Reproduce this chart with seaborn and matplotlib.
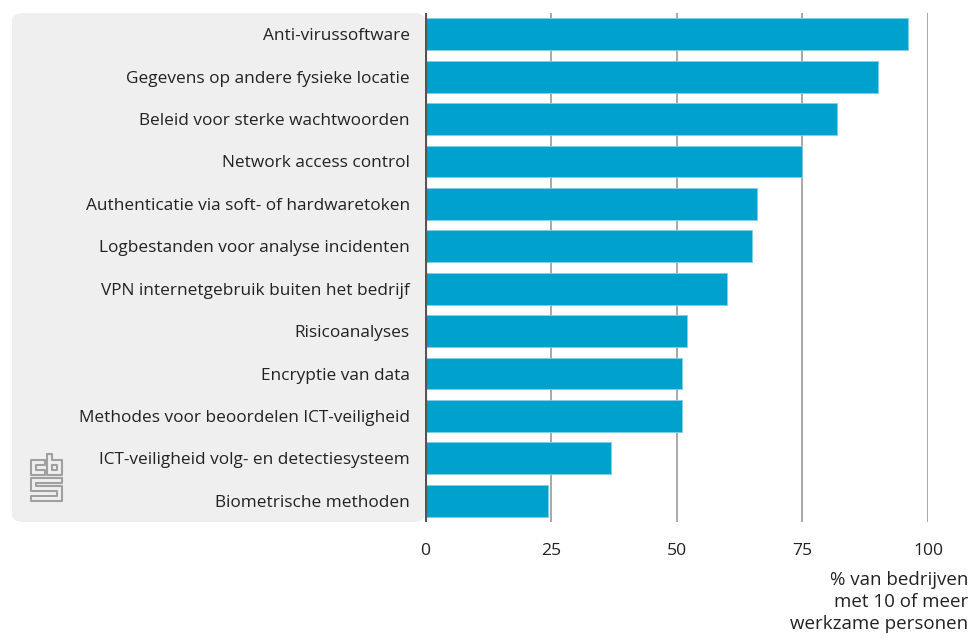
import matplotlib
matplotlib.use("Agg")
import matplotlib.pyplot as plt
from matplotlib.patches import FancyBboxPatch
import seaborn as sns
import pandas as pd

categories = [
    "Anti-virussoftware",
    "Gegevens op andere fysieke locatie",
    "Beleid voor sterke wachtwoorden",
    "Network access control",
    "Authenticatie via soft- of hardwaretoken",
    "Logbestanden voor analyse incidenten",
    "VPN internetgebruik buiten het bedrijf",
    "Risicoanalyses",
    "Encryptie van data",
    "Methodes voor beoordelen ICT-veiligheid",
    "ICT-veiligheid volg- en detectiesysteem",
    "Biometrische methoden",
]
values = [96, 90, 82, 75, 66, 65, 60, 52, 51, 51, 37, 24.5]
x_ticks = [0, 25, 50, 75, 100]
x_label = "% van bedrijven\nmet 10 of meer\nwerkzame personen"

df = pd.DataFrame({"maatregel": categories, "pct": values})

sns.set_theme(style="white")
plt.rcParams["font.family"] = ["Open Sans", "DejaVu Sans"]

W, H = 975, 643
fig = plt.figure(figsize=(W / 100, H / 100), dpi=100)

# grey rounded panel behind the category labels
panel = FancyBboxPatch((12 / W, (H - 522) / H), (425 - 12) / W, (522 - 13) / H,
                       boxstyle="round,pad=0,rounding_size=0.012",
                       transform=fig.transFigure, facecolor="#efefef",
                       edgecolor="none", zorder=-5)
fig.patches.append(panel)

ax = fig.add_axes([425 / W, (H - 522) / H, (928 - 425) / W, (522 - 13) / H])
ax.patch.set_alpha(0)

sns.barplot(data=df, x="pct", y="maatregel", orient="h", color="#00a1cd",
            saturation=1, width=0.75, ax=ax, zorder=3,
            edgecolor="#7fd0e6", linewidth=0.6)

ax.set_xlim(0, 100)
ax.set_ylim(11.5, -0.5)
ax.set_xticks(x_ticks)
ax.set_xticklabels([str(t) for t in x_ticks])
for t in x_ticks[1:]:
    ax.axvline(t, color="#a8a8a8", lw=1.4, zorder=1)
ax.axvline(0, color="#555555", lw=3, zorder=4)

for s in ax.spines.values():
    s.set_visible(False)
ax.tick_params(axis="y", length=0, pad=11, labelsize=12.4, labelcolor="#222222")
ax.tick_params(axis="x", length=0, pad=15, labelsize=12.6, labelcolor="#222222")
ax.set_ylabel("")
ax.set_xlabel("")

fig.text(968 / W, (H - 571) / H, x_label, ha="right", va="top",
         fontsize=13.5, color="#222222", linespacing=1.3)

# CBS logo mark drawn as outlined paths
lc = "#a0a0a0"
def path(pts):
    xs = [p[0] / W for p in pts]
    ys = [(H - p[1]) / H for p in pts]
    fig.add_artist(plt.Line2D(xs, ys, color=lc, lw=1.5,
                              transform=fig.transFigure))
# c
path([(45, 460), (31, 460), (31, 475), (45, 475), (45, 470), (36, 470),
      (36, 465), (45, 465), (45, 460)])
# b
path([(47, 454), (47, 475), (62, 475), (62, 460), (52, 460), (52, 454),
      (47, 454)])
path([(52, 465), (57, 465), (57, 470), (52, 470), (52, 465)])
# s
path([(62, 478), (31, 478), (31, 491), (57, 491), (57, 496), (31, 496),
      (31, 501), (62, 501), (62, 486), (36, 486), (36, 483), (62, 483),
      (62, 478)])

fig.savefig("out.png", dpi=100)
